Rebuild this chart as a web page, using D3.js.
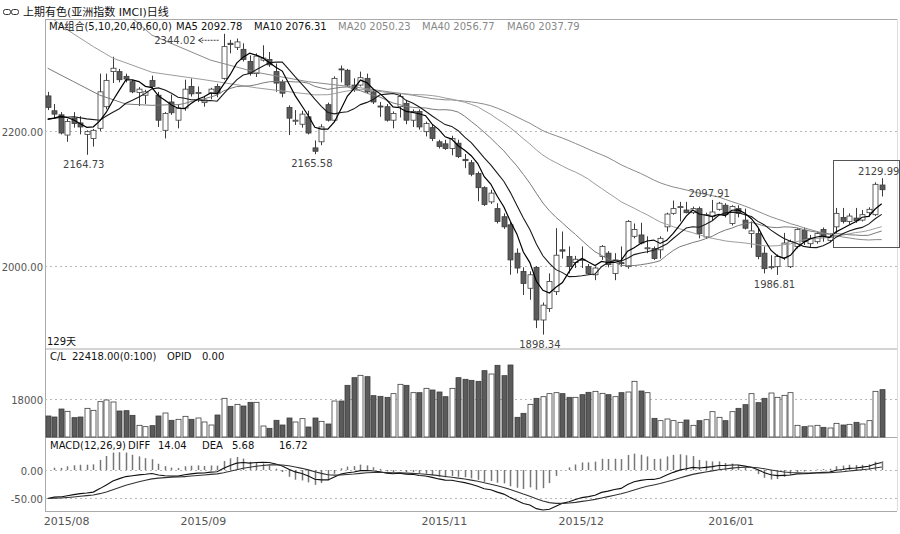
<!DOCTYPE html>
<html>
<head>
<meta charset="utf-8">
<script src="https://cdn.jsdelivr.net/npm/d3@7"></script>
<style>
  body { margin: 0; background: #fff; }
  svg text { font-family: "DejaVu Sans", "Noto Sans CJK SC", sans-serif; font-size: 10px; }
</style>
</head>
<body>
<div id="chart"></div>
<script>
// ===== data =====
const open  = [2252,2230,2224,2194,2219,2212,2195,2189,2204,2236,2288,2288,2281,2273,2257,2253,2275,2253,2201,2243,
               2216,2234,2266,2256,2242,2256,2266,2278,2330,2324,2321,2303,2285,2305,2306,2288,2272,2235,2215,2210,
               2221,2175,2184,2239,2216,2292,2290,2268,2268,2278,2258,2237,2236,2216,2236,2241,2216,2229,2199,2205,
               2184,2181,2174,2182,2158,2153,2137,2116,2095,2085,2073,2061,2019,1992,1967,1998,1920,1937,1962,2024,
               2014,2005,2010,1999,1987,2014,2019,1989,2005,1999,2044,2046,2026,2026,2024,2058,2078,2087,2083,2079,
               2085,2043,2073,2084,2090,2063,2085,2068,2048,2048,2019,1998,1999,2012,1999,2029,2053,2033,2036,2054,
               2038,2058,2072,2066,2071,2068,2079,2076,2120];
const high  = [2258,2240,2228,2218,2228,2222,2201,2203,2285,2285,2310,2292,2285,2276,2265,2261,2282,2258,2228,2254,
               2240,2276,2278,2266,2252,2264,2270,2344.02,2335,2337,2330,2312,2315,2327,2317,2300,2276,2238,2231,2230,
               2230,2186,2210,2242,2281,2297,2292,2278,2288,2285,2262,2243,2240,2229,2256,2246,2232,2232,2214,2210,
               2187,2187,2193,2187,2166,2157,2140,2118,2113,2093,2078,2065,2026,1998,1992,2000,1946,1989,2056,2051,
               2029,2015,2029,2003,1999,2031,2022,2019,2029,2068,2063,2064,2044,2029,2044,2079,2097,2095,2095,2088,
               2088,2079,2097.91,2095,2093,2090,2090,2085,2066,2055,2029,2016,2017,2049,2039,2056,2057,2046,2051,2057,
               2046,2086,2086,2078,2086,2083,2087,2124,2129.99];
const low   = [2231,2218,2195,2184,2205,2195,2164.73,2177,2200,2232,2271,2272,2272,2256,2237,2240,2263,2206,2189,2224,
               2204,2230,2251,2243,2236,2247,2250,2276,2315,2320,2303,2282,2280,2303,2295,2258,2250,2194,2209,2205,
               2195,2165.58,2179,2214,2213,2272,2265,2258,2266,2256,2240,2221,2214,2204,2220,2210,2206,2202,2192,2185,
               2174,2172,2164,2160,2145,2133,2096,2089,2092,2063,2055,1987,1989,1957,1950,1908,1898.34,1932,1957,2011,
               1989,1997,1997,1987,1979,2009,1998,1979,1999,1996,2041,2032,2019,2009,2011,2051,2076,2066,2078,2077,
               2041,2040,2068,2082,2072,2060,2072,2054,2027,2010,1989,1995,1986.81,2009,1997,2026,2031,2028,2033,2036,
               2035,2048,2063,2062,2064,2066,2073,2074,2103];
const close = [2235,2225,2197,2214,2211,2206,2199,2201,2258,2275,2293,2276,2277,2258,2262,2258,2266,2216,2226,2227,
               2234,2262,2255,2257,2246,2262,2256,2325,2328,2332,2306,2285,2311,2308,2298,2271,2256,2219,2216,2225,
               2197,2170,2206,2216,2278,2291,2268,2261,2279,2258,2243,2236,2216,2226,2251,2216,2229,2206,2211,2189,
               2177,2174,2189,2162,2156,2136,2116,2091,2108,2066,2058,2009,1997,1974,1987,1920,1942,1977,2016,2022,
               1999,2010,2009,1989,1997,2029,2002,2009,2004,2066,2054,2034,2027,2011,2041,2077,2085,2088,2079,2085,
               2048,2076,2080,2093,2076,2088,2078,2056,2052,2014,1996,1999,2014,2034,2036,2054,2036,2041,2048,2043,
               2043,2078,2066,2074,2067,2076,2084,2121,2113];
const volume = [9950,9470,13260,12160,9160,9470,13580,12630,16740,17530,16580,12320,12470,10260,5530,4900,5370,9950,11370,7900,
                8370,9790,8370,9000,7110,5680,10420,18320,14530,15470,14680,16420,16420,5210,4110,7900,5680,9000,7110,8690,
                4740,9000,7420,6160,17050,17050,24470,28100,29210,28580,19580,19260,18790,20530,24950,24470,21000,21000,23050,22260,
                21320,19100,23050,28100,27320,26840,26370,31420,29840,33950,29050,34100,9320,11210,15470,18320,19100,20530,21000,20530,
                18790,18790,20050,21160,21630,20680,20050,19100,21000,21320,26370,21790,21000,8840,7740,8530,7740,6950,8050,5530,
                7740,8210,12000,9320,7740,12000,13580,15320,20530,16260,18320,20840,18790,19740,21000,5530,4900,5210,5530,4580,
                4260,6470,5680,6000,6950,6160,7740,21630,22418];

// nilai MA sebelum jendela penuh: [index, nilai]
const ma5Lead  = [[0,2217],[1,2219],[2,2222],[3,2220]];
const ma10Lead = [[0,2218],[2,2220],[4,2221],[6,2218],[8,2216]];
const ma20Lead = [[0,2293],[4,2273],[8,2253],[12,2240],[16,2238]];
const ma40Lead = [[0,2372],[3,2350],[7,2325],[10,2308],[16,2287],[24,2276],[32,2264]];
const ma60Lead = [[0,2440],[8,2395],[13,2367],[16,2342],[25,2305],[32,2287],[40,2273],[48,2264],[56,2253]];

// awal EMA12, EMA26, DEA
const macdSeed = [2240, 2291, -51];

// label
const priceTicks = [2000, 2200];
const volTicks   = [18000];
const macdTicks  = [-50, 0];
const monthLabels = ["2015/08","2015/09","2015/11","2015/12","2016/01"];
const monthIdx    = [0, 21, 58, 79, 102];
const markIdx = [6, 41, 76, 112, 102, 128];
const markVal = [2164.73, 2165.58, 1898.34, 1986.81, 2097.91, 2129.99];
const markLow = [true, true, true, true, false, false];
const peakIdx = 27, peakVal = 2344.02;

// ===== layout =====
const W = 900, H = 534;
const L = 45, R = 897;
const mainTop = 19, mainBot = 348.5, volBot = 437, macdBot = 511;

const svg = d3.select("#chart").append("svg")
    .attr("width", W).attr("height", H);

const x    = d3.scaleLinear().domain([0, close.length - 1]).range([47.7, 881.7]);
const y    = d3.scaleLinear().domain([2000, 2200]).range([266, 131]);
const yVol = d3.scaleLinear().domain([0, 18000]).range([volBot, 399]);
const yM   = d3.scaleLinear().domain([-50, 0]).range([498, 470]);

const grid = "#b8b8b8", frame = "#aaaaaa", dark = "#5b5b5b", edge = "#3c3c3c";

svg.append("clipPath").attr("id", "clipMain")
  .append("rect").attr("x", L).attr("y", mainTop).attr("width", R - L).attr("height", mainBot - mainTop);

// title
svg.append("rect").attr("x", 3.5).attr("y", 9.5).attr("width", 7).attr("height", 5).attr("rx", 2)
  .attr("fill", "none").attr("stroke", "#333");
svg.append("rect").attr("x", 11.5).attr("y", 9.5).attr("width", 7).attr("height", 5).attr("rx", 2)
  .attr("fill", "none").attr("stroke", "#333");
svg.append("text").attr("x", 23).attr("y", 16).style("font-size", "11px").attr("fill", "#111")
  .text("上期有色(亚洲指数 IMCI)日线");

// frame lines
[mainTop, mainBot, volBot, macdBot].forEach(v => {
  svg.append("line").attr("x1", L).attr("x2", R).attr("y1", v + 0.5).attr("y2", v + 0.5)
    .attr("stroke", frame);
});
svg.append("line").attr("x1", L + 0.5).attr("x2", L + 0.5).attr("y1", mainTop).attr("y2", macdBot)
  .attr("stroke", frame);
svg.append("line").attr("x1", R + 0.5).attr("x2", R + 0.5).attr("y1", mainTop).attr("y2", macdBot)
  .attr("stroke", "#dddddd");

// dashed grid + y labels
function hgrid(scale, ticks, fmt) {
  ticks.forEach(t => {
    const yy = Math.round(scale(t)) + 0.5;
    svg.append("line").attr("x1", L).attr("x2", R).attr("y1", yy).attr("y2", yy)
      .attr("stroke", grid).attr("stroke-dasharray", "2,3");
    svg.append("text").attr("x", 43).attr("y", yy + 4).attr("text-anchor", "end")
      .attr("fill", "#555").text(fmt(t));
  });
}
hgrid(y, priceTicks, d => d.toFixed(2));
hgrid(yVol, volTicks, d => d);
hgrid(yM, macdTicks, d => d.toFixed(2));

// ===== candles =====
const main = svg.append("g").attr("clip-path", "url(#clipMain)");
const px = i => Math.round(x(i)) + 0.5;

close.forEach((c, i) => {
  const up = c >= open[i];
  main.append("line")
    .attr("x1", px(i)).attr("x2", px(i))
    .attr("y1", y(high[i])).attr("y2", y(low[i]))
    .attr("stroke", edge);
  const top = y(Math.max(open[i], c)), bot = y(Math.min(open[i], c));
  main.append("rect")
    .attr("x", px(i) - 2.5).attr("y", top)
    .attr("width", 5).attr("height", Math.max(1, bot - top))
    .attr("fill", up ? "#fff" : dark)
    .attr("stroke", edge).attr("stroke-width", 0.8);
});

// moving averages
function movAvg(n, lead) {
  const pts = lead.map(([i, v]) => ({ i, v }));
  for (let i = n - 1; i < close.length; i++) {
    pts.push({ i, v: d3.mean(close.slice(i - n + 1, i + 1)) });
  }
  return pts;
}
const maLine = d3.line().x(d => x(d.i)).y(d => y(d.v));
[
  [60, ma60Lead, "#8a8a8a", 1],
  [40, ma40Lead, "#9c9c9c", 1],
  [20, ma20Lead, "#7a7a7a", 1],
  [10, ma10Lead, "#1a1a1a", 1.1],
  [5,  ma5Lead,  "#000000", 1.2]
].forEach(([n, lead, col, w]) => {
  main.append("path").datum(movAvg(n, lead))
    .attr("fill", "none").attr("stroke", col).attr("stroke-width", w)
    .attr("d", maLine);
});

// high / low marks
markIdx.forEach((i, k) => {
  const v = markVal[k];
  svg.append("text")
    .attr("x", x(i) - 3)
    .attr("y", markLow[k] ? y(v) + 13 : y(v) - 3)
    .attr("text-anchor", "middle").attr("fill", "#444")
    .text(v.toFixed(2));
});
svg.append("text").attr("x", x(peakIdx) - 28).attr("y", y(peakVal) + 10)
  .attr("text-anchor", "end").attr("fill", "#444").text(peakVal.toFixed(2));
svg.append("line").attr("x1", x(peakIdx) - 25).attr("x2", x(peakIdx) - 4)
  .attr("y1", y(peakVal) + 6.5).attr("y2", y(peakVal) + 6.5)
  .attr("stroke", "#444").attr("stroke-dasharray", "2,1");
svg.append("path")
  .attr("d", `M${x(peakIdx) - 25},${y(peakVal) + 6.5} l4,-2.5 M${x(peakIdx) - 25},${y(peakVal) + 6.5} l4,2.5`)
  .attr("stroke", "#444").attr("fill", "none");

// selection box
svg.append("rect")
  .attr("x", Math.round(x(120.5)) + 0.5).attr("y", Math.round(y(2157)) + 0.5)
  .attr("width", 899 - Math.round(x(120.5))).attr("height", Math.round(y(2028) - y(2157)))
  .attr("fill", "none").attr("stroke", "#555");

// legends
const hdr = [
  ["MA组合(5,10,20,40,60,0)", 49, "#111"],
  ["MA5 2092.78", 176, "#111"],
  ["MA10 2076.31", 254, "#111"],
  ["MA20 2050.23", 338, "#888"],
  ["MA40 2056.77", 422, "#888"],
  ["MA60 2037.79", 507, "#888"]
];
hdr.forEach(([t, xx, col]) => {
  svg.append("text").attr("x", xx).attr("y", 30).attr("fill", col).text(t);
});
svg.append("text").attr("x", 47).attr("y", 345).attr("fill", "#111").text("129天");

// ===== volume =====
close.forEach((c, i) => {
  const up = c >= open[i];
  svg.append("rect")
    .attr("x", px(i) - 2.5).attr("y", yVol(volume[i]))
    .attr("width", 5).attr("height", volBot - yVol(volume[i]))
    .attr("fill", up ? "#fff" : dark)
    .attr("stroke", edge).attr("stroke-width", 0.8);
});
[["C/L", 50], ["22418.00(0:100)", 72], ["OPID", 167], ["0.00", 202]].forEach(([t, xx]) => {
  svg.append("text").attr("x", xx).attr("y", 360).attr("fill", "#111").text(t);
});

// ===== MACD =====
let e12 = macdSeed[0], e26 = macdSeed[1], dea = macdSeed[2];
const macd = close.map((c, i) => {
  if (i > 0) {
    e12 += (c - e12) * 2 / 13;
    e26 += (c - e26) * 2 / 27;
  }
  const diff = e12 - e26;
  if (i > 0) dea += (diff - dea) * 2 / 10;
  return { i, diff, dea, bar: 2 * (diff - dea) };
});

svg.selectAll(".mbar").data(macd).enter().append("line")
  .attr("class", "mbar")
  .attr("x1", d => px(d.i)).attr("x2", d => px(d.i))
  .attr("y1", yM(0)).attr("y2", d => yM(d.bar))
  .attr("stroke", "#777").attr("stroke-width", 1.5);

svg.append("path").datum(macd)
  .attr("fill", "none").attr("stroke", "#111").attr("stroke-width", 1.1)
  .attr("d", d3.line().x(d => x(d.i)).y(d => yM(d.diff)));
svg.append("path").datum(macd)
  .attr("fill", "none").attr("stroke", "#333").attr("stroke-width", 1.1)
  .attr("d", d3.line().x(d => x(d.i)).y(d => yM(d.dea)));

[["MACD(12,26,9)", 50], ["DIFF", 128], ["14.04", 158], ["DEA", 202], ["5.68", 232], ["16.72", 279]]
  .forEach(([t, xx]) => {
    svg.append("text").attr("x", xx).attr("y", 449).attr("fill", "#111").text(t);
  });

// month labels
monthLabels.forEach((m, k) => {
  svg.append("text").attr("x", x(monthIdx[k]) - 4).attr("y", 525)
    .attr("fill", "#555").style("font-size", "11px").text(m);
});
</script>
</body>
</html>
